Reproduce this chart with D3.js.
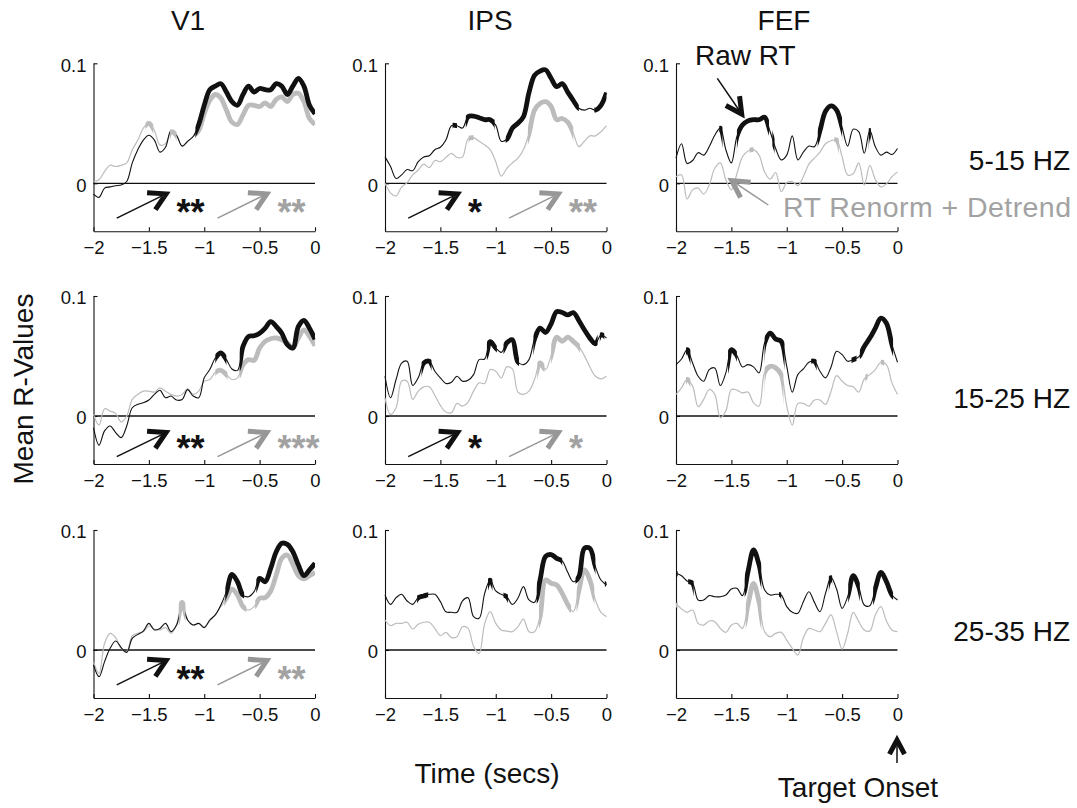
<!DOCTYPE html>
<html><head><meta charset="utf-8">
<script src="https://cdn.jsdelivr.net/npm/d3@7"></script>
<style>
body{margin:0;background:#fff;}
svg{display:block;font-family:"Liberation Sans",Arial,Helvetica,sans-serif;}
</style></head><body>
<svg id="chart" width="1077" height="808"></svg>
<script>
// ---------------- DATA ----------------
const times = [-2.00,-1.95,-1.90,-1.85,-1.80,-1.75,-1.70,-1.65,-1.60,-1.55,-1.50,-1.45,-1.40,-1.35,-1.30,-1.25,-1.20,-1.15,-1.10,-1.05,-1.00,-0.95,-0.90,-0.85,-0.80,-0.75,-0.70,-0.65,-0.60,-0.55,-0.50,-0.45,-0.40,-0.35,-0.30,-0.25,-0.20,-0.15,-0.10,-0.05,0.00];
const regions = ["V1","IPS","FEF"];
const bands = ["5-15 HZ","15-25 HZ","25-35 HZ"];
const xTicks = [-2,-1.5,-1,-0.5,0];
const xTickLabels = ["\u22122","\u22121.5","\u22121","\u22120.5","0"];
const yTicks = [0,0.1];
const yTickLabels = ["0","0.1"];

// Raw RT (black)
const raw_5_15_V1 = [-0.009,-0.0117,-0.004,-0.003,-0.002,-0.0015,0.0015,0.017,0.028,0.036,0.040,0.036,0.026,0.030,0.044,0.040,0.031,0.035,0.039,0.049,0.065,0.078,0.081,0.083,0.076,0.068,0.065,0.074,0.081,0.076,0.079,0.078,0.078,0.083,0.081,0.074,0.081,0.0875,0.081,0.065,0.058];
const raw_5_15_IPS = [0.022,0.014,0.004,0.007,0.0115,0.0105,0.018,0.022,0.023,0.028,0.030,0.036,0.048,0.048,0.046,0.0555,0.056,0.0547,0.053,0.053,0.0485,0.035,0.0367,0.046,0.050,0.0555,0.0755,0.090,0.0935,0.0945,0.0875,0.0805,0.083,0.076,0.069,0.0625,0.061,0.0625,0.061,0.065,0.0755];
const raw_5_15_FEF = [0.021,0.033,0.0165,0.019,0.0255,0.0235,0.0305,0.040,0.046,0.028,0.017,0.039,0.0485,0.052,0.053,0.053,0.055,0.043,0.029,0.0195,0.0235,0.0395,0.0195,0.026,0.031,0.0305,0.044,0.060,0.0645,0.061,0.0465,0.031,0.045,0.043,0.025,0.044,0.0305,0.0235,0.026,0.024,0.029];
const raw_15_25_V1 = [-0.0097,-0.0243,-0.0124,-0.0083,-0.0138,-0.018,-0.0083,0.0069,0.0097,0.011,0.0133,0.018,0.0215,0.0152,0.0166,0.0133,0.0138,0.022,0.0166,0.0152,0.0318,0.0387,0.0483,0.0525,0.047,0.0392,0.038,0.058,0.0663,0.0669,0.069,0.0732,0.0787,0.0746,0.069,0.0594,0.0566,0.0746,0.0796,0.0732,0.064];
const raw_15_25_IPS = [0.0331,0.0152,0.0304,0.044,0.0456,0.0254,0.0318,0.0442,0.0456,0.0373,0.0318,0.0271,0.0282,0.0331,0.029,0.0298,0.0345,0.047,0.0475,0.062,0.0566,0.053,0.061,0.0635,0.045,0.0428,0.047,0.0641,0.0732,0.0696,0.0768,0.087,0.0862,0.0843,0.0862,0.0796,0.0718,0.0649,0.0602,0.0677,0.0649];
const raw_15_25_FEF = [0.0428,0.0475,0.0552,0.0442,0.0331,0.029,0.0387,0.040,0.0254,0.036,0.0552,0.0503,0.0409,0.0428,0.0409,0.0359,0.0608,0.0691,0.0641,0.0622,0.0414,0.0199,0.0345,0.0392,0.0448,0.0456,0.0373,0.0318,0.0409,0.0539,0.0511,0.0456,0.047,0.0492,0.058,0.0649,0.0732,0.0815,0.0773,0.0594,0.0448];
const raw_25_35_V1 = [-0.0125,-0.0222,-0.0097,0.0014,0.0075,0.002,-0.002,0.0097,0.013,0.0158,0.0222,0.0167,0.018,0.0222,0.0153,0.0208,0.0361,0.025,0.0208,0.0222,0.0186,0.025,0.0292,0.0375,0.0486,0.0631,0.0569,0.0458,0.0444,0.0486,0.0597,0.0569,0.068,0.0819,0.0889,0.088,0.0819,0.0708,0.0619,0.0667,0.0722];
const raw_25_35_IPS = [0.0458,0.038,0.0436,0.0464,0.0408,0.038,0.0436,0.045,0.0464,0.0464,0.0403,0.0319,0.0314,0.0314,0.041,0.0435,0.0278,0.0264,0.0472,0.0583,0.0492,0.0464,0.0444,0.038,0.0431,0.0528,0.0417,0.0397,0.0583,0.078,0.0795,0.0764,0.0742,0.0647,0.0569,0.0611,0.0847,0.0847,0.0694,0.0583,0.0542];
const raw_25_35_FEF = [0.0639,0.0619,0.0575,0.0556,0.0417,0.0417,0.0453,0.0444,0.0444,0.0458,0.0508,0.0514,0.0453,0.0653,0.0835,0.071,0.05,0.0458,0.0464,0.0458,0.0361,0.0314,0.0306,0.0403,0.0486,0.0397,0.0319,0.0472,0.0603,0.0508,0.0347,0.0444,0.062,0.0528,0.0375,0.0369,0.0514,0.0647,0.057,0.0458,0.0417];

// RT Renorm + Detrend (grey)
const ren_5_15_V1 = [0.0015,0.003,0.010,0.015,0.014,0.015,0.017,0.028,0.036,0.046,0.050,0.044,0.032,0.033,0.043,0.040,0.031,0.035,0.039,0.044,0.058,0.069,0.074,0.071,0.061,0.051,0.049,0.057,0.065,0.065,0.064,0.067,0.064,0.070,0.072,0.068,0.074,0.075,0.068,0.054,0.049];
const ren_5_15_IPS = [0.0,-0.008,-0.0105,-0.003,0.0005,0.007,0.011,0.016,0.013,0.019,0.018,0.0215,0.025,0.0215,0.022,0.037,0.038,0.035,0.032,0.028,0.018,0.006,0.0125,0.017,0.021,0.028,0.0415,0.061,0.0665,0.068,0.064,0.053,0.054,0.051,0.042,0.0305,0.035,0.0395,0.0395,0.043,0.048];
const ren_5_15_FEF = [0.0055,0.007,-0.013,-0.0055,-0.004,-0.009,-0.0015,0.0125,0.017,0.003,-0.0055,0.008,0.022,0.027,0.028,0.0235,0.0095,0.0035,0.009,-0.007,0.0005,0.0015,-0.002,0.0055,0.016,0.021,0.026,0.033,0.0355,0.036,0.022,0.007,0.008,0.017,-0.0015,0.015,0.003,-0.003,-0.0005,0.0055,0.0095];
const ren_15_25_V1 = [0.0014,-0.0077,0.006,0.0041,0.0022,-0.005,0.0,0.0138,0.018,0.0207,0.0207,0.0199,0.0235,0.0207,0.018,0.0166,0.018,0.0227,0.018,0.0207,0.029,0.0304,0.0365,0.0381,0.0345,0.0304,0.0318,0.0428,0.047,0.0464,0.0566,0.0622,0.0644,0.065,0.0635,0.0608,0.0566,0.065,0.0718,0.0663,0.0586];
const ren_15_25_IPS = [0.0152,0.0014,0.0069,0.029,0.029,0.0138,0.0207,0.0243,0.0243,0.0171,0.0088,0.0033,0.0028,0.0105,0.0083,0.0116,0.0207,0.0276,0.0271,0.0387,0.0373,0.0318,0.0409,0.0392,0.0199,0.018,0.0207,0.0304,0.0442,0.0387,0.0503,0.0657,0.0622,0.0657,0.0622,0.058,0.0503,0.0409,0.0331,0.0309,0.0331];
const ren_15_25_FEF = [0.018,0.0235,0.0304,0.0249,0.0077,0.0138,0.0221,0.018,-0.0014,0.0041,0.0221,0.0215,0.0193,0.0199,0.011,0.0083,0.0365,0.0414,0.0401,0.0345,0.0083,-0.0077,0.0105,0.0105,0.0083,0.0133,0.0133,0.0097,0.0207,0.0337,0.029,0.0254,0.0243,0.0199,0.0309,0.0345,0.0387,0.0448,0.0428,0.0276,0.018];
const ren_25_35_V1 = [-0.0097,-0.0194,0.0056,0.0139,0.0103,0.0014,-0.0014,0.0119,0.0139,0.0153,0.020,0.0175,0.0167,0.0186,0.0139,0.0208,0.0397,0.025,0.0208,0.0222,0.0194,0.0242,0.0297,0.0361,0.0431,0.0508,0.0458,0.0361,0.0333,0.0361,0.0431,0.0436,0.0492,0.0625,0.0764,0.0792,0.0714,0.0619,0.0592,0.0619,0.0647];
const ren_25_35_IPS = [0.025,0.0203,0.0222,0.0222,0.0231,0.0175,0.0214,0.0231,0.0231,0.018,0.0119,0.0147,0.0103,0.0111,0.0194,0.018,0.003,-0.003,0.022,0.0319,0.0222,0.0167,0.0158,0.0153,0.0194,0.0258,0.0153,0.0153,0.0278,0.0583,0.0556,0.0542,0.0472,0.038,0.0319,0.0492,0.0667,0.0583,0.0417,0.0314,0.0278];
const ren_25_35_FEF = [0.0389,0.0342,0.0314,0.0333,0.0222,0.0208,0.0242,0.0236,0.018,0.0147,0.0208,0.0222,0.018,0.0375,0.0555,0.040,0.0153,0.0111,0.0139,0.0147,0.0083,0.0014,-0.0042,0.0103,0.018,0.0167,0.0153,0.0222,0.0292,0.0153,0.0008,0.0139,0.0314,0.0236,0.0167,0.0158,0.0292,0.0361,0.0242,0.0167,0.0153];

// Significant intervals (drawn thick), [start, end] in seconds
const sigRaw_5_15_V1 = [[-1.08,0]];
const sigRaw_5_15_IPS = [[-1.39,-1.35],[-1.27,-1.01],[-0.91,-0.25],[-0.11,0]];
const sigRaw_5_15_FEF = [[-1.61,-1.58],[-1.45,-1.16],[-1.13,-1.11],[-0.72,-0.50],[-0.26,-0.24]];
const sigRaw_15_25_V1 = [[-0.90,-0.80],[-0.68,0]];
const sigRaw_15_25_IPS = [[-1.67,-1.58],[-1.08,-0.99],[-0.93,-0.79],[-0.66,-0.08],[-0.06,-0.02]];
const sigRaw_15_25_FEF = [[-1.91,-1.87],[-1.53,-1.45],[-1.20,-1.02],[-0.78,-0.73],[-0.415,-0.37],[-0.34,-0.04]];
const sigRaw_25_35_V1 = [[-0.81,-0.64],[-0.53,0]];
const sigRaw_25_35_IPS = [[-1.71,-1.61],[-1.07,-1.03],[-0.93,-0.89],[-0.63,-0.40],[-0.28,-0.10],[-0.015,0]];
const sigRaw_25_35_FEF = [[-2,-1.985],[-1.89,-1.84],[-1.38,-1.23],[-1.07,-1.05],[-0.62,-0.59],[-0.445,-0.34],[-0.22,-0.04]];
const sigRen_5_15_V1 = [[-1.53,-1.46],[-1.31,-1.25],[-1.07,0]];
const sigRen_5_15_IPS = [[-1.245,-1.20],[-0.71,-0.30]];
const sigRen_5_15_FEF = [[-1.335,-1.30],[-0.57,-0.53]];
const sigRen_15_25_V1 = [[-0.90,-0.79],[-0.68,0]];
const sigRen_15_25_IPS = [[-0.625,-0.56],[-0.50,-0.24]];
const sigRen_15_25_FEF = [[-1.91,-1.87],[-1.20,-1.03],[-0.29,-0.27],[-0.15,-0.12]];
const sigRen_25_35_V1 = [[-1.23,-1.17],[-0.82,-0.62],[-0.54,0]];
const sigRen_25_35_IPS = [[-0.61,-0.32],[-0.27,-0.11]];
const sigRen_25_35_FEF = [[-2,-1.985],[-1.37,-1.23]];

// Trend significance stars (row = band, col = region)
const starsRaw = [["**","*",""],["**","*",""],["**","",""]];
const starsRen = [["**","**",""],["***","*",""],["**","",""]];

// ---------------- TABLES ----------------
const rawTable = [[raw_5_15_V1,raw_5_15_IPS,raw_5_15_FEF],[raw_15_25_V1,raw_15_25_IPS,raw_15_25_FEF],[raw_25_35_V1,raw_25_35_IPS,raw_25_35_FEF]];
const renTable = [[ren_5_15_V1,ren_5_15_IPS,ren_5_15_FEF],[ren_15_25_V1,ren_15_25_IPS,ren_15_25_FEF],[ren_25_35_V1,ren_25_35_IPS,ren_25_35_FEF]];
const sigRawTable = [[sigRaw_5_15_V1,sigRaw_5_15_IPS,sigRaw_5_15_FEF],[sigRaw_15_25_V1,sigRaw_15_25_IPS,sigRaw_15_25_FEF],[sigRaw_25_35_V1,sigRaw_25_35_IPS,sigRaw_25_35_FEF]];
const sigRenTable = [[sigRen_5_15_V1,sigRen_5_15_IPS,sigRen_5_15_FEF],[sigRen_15_25_V1,sigRen_15_25_IPS,sigRen_15_25_FEF],[sigRen_25_35_V1,sigRen_25_35_IPS,sigRen_25_35_FEF]];

// ---------------- LAYOUT ----------------
const colX = [93.5, 385, 676];
const rowY = [63.3, 296, 530];
const W = 221.5, H = 168;
const BLACK = "#111", GREY = "#bcbcbc", GREY_DARK = "#979797", GREY_TXT = "#a2a2a2";
const bigFont = 28;

const svg = d3.select("#chart");
const defs = svg.append("defs");
const x = d3.scaleLinear().domain([-2, 0]).range([0, W]);
const y = d3.scaleLinear().domain([-0.04, 0.1]).range([H, 0]);
const line = d3.line().x((d, i) => x(times[i])).y(d => y(d)).curve(d3.curveCatmullRom.alpha(0.5));

function drawArrow(g, x1, y1, x2, y2, color, lw, hw, hl, half) {
  g.append("line").attr("x1", x1).attr("y1", y1).attr("x2", x2).attr("y2", y2)
    .attr("stroke", color).attr("stroke-width", lw);
  const back = Math.atan2(y1 - y2, x1 - x2);
  const a1 = back - half, a2 = back + half;
  g.append("path")
    .attr("d", `M${x2 + hl * Math.cos(a1)},${y2 + hl * Math.sin(a1)}L${x2},${y2}L${x2 + hl * Math.cos(a2)},${y2 + hl * Math.sin(a2)}`)
    .attr("fill", "none").attr("stroke", color).attr("stroke-width", hw)
    .attr("stroke-linejoin", "miter").attr("stroke-miterlimit", 10);
}

// annotation vertical placement per row (data units): arrow start, arrow tip, star centre
const annotY = [[-0.029, -0.0088, -0.0183], [-0.0338, -0.0138, -0.0212], [-0.029, -0.0088, -0.0183]];
const starFont = 36;

rowY.forEach((ry, r) => {
  colX.forEach((cx, c) => {
    const g = svg.append("g").attr("transform", `translate(${cx},${ry})`);

    // axes
    const xa = g.append("g").attr("transform", `translate(0,${H})`)
      .call(d3.axisBottom(x).tickValues(xTicks).tickFormat((d, i) => xTickLabels[i]).tickSize(-4).tickSizeOuter(0).tickPadding(10));
    const ya = g.append("g")
      .call(d3.axisLeft(y).tickValues(yTicks).tickFormat((d, i) => yTickLabels[i]).tickSize(-4).tickSizeOuter(0).tickPadding(7));
    [xa, ya].forEach(a => {
      a.select(".domain").attr("stroke", BLACK).attr("stroke-width", 1.1);
      a.selectAll(".tick line").attr("stroke", BLACK).attr("stroke-width", 1.1);
      a.selectAll("text").attr("font-size", 18.5).attr("fill", BLACK).attr("font-family", "Liberation Sans, Arial, sans-serif");
    });
    ya.selectAll("text").attr("dy", "0.42em");

    // zero line
    g.append("line").attr("x1", x(-2)).attr("x2", x(0)).attr("y1", y(0)).attr("y2", y(0))
      .attr("stroke", BLACK).attr("stroke-width", 1.3);

    // clip paths for significant intervals
    const mkClip = (id, ints) => {
      const cp = defs.append("clipPath").attr("id", id);
      ints.forEach(([a, b]) => cp.append("rect")
        .attr("x", cx + x(a)).attr("width", Math.max(0.5, x(b) - x(a)))
        .attr("y", ry - 30).attr("height", H + 60));
    };
    const idRaw = `sraw${r}${c}`, idRen = `sren${r}${c}`;
    mkClip(idRaw, sigRawTable[r][c]);
    mkClip(idRen, sigRenTable[r][c]);

    const raw = rawTable[r][c], ren = renTable[r][c];
    g.append("path").attr("d", line(ren)).attr("fill", "none").attr("stroke", GREY).attr("stroke-width", 1.2);
    g.append("path").attr("d", line(raw)).attr("fill", "none").attr("stroke", BLACK).attr("stroke-width", 1.1);
    const gRen = svg.append("g").attr("clip-path", `url(#${idRen})`);
    gRen.append("path").attr("transform", `translate(${cx},${ry})`).attr("d", line(ren))
      .attr("fill", "none").attr("stroke", GREY).attr("stroke-width", 4.8);
    const gRaw = svg.append("g").attr("clip-path", `url(#${idRaw})`);
    gRaw.append("path").attr("transform", `translate(${cx},${ry})`).attr("d", line(raw))
      .attr("fill", "none").attr("stroke", BLACK).attr("stroke-width", 4.8);

    // trend arrows + stars
    const [ay1, ay2, sy] = annotY[r];
    const ann = svg.append("g").attr("transform", `translate(${cx},${ry})`);
    if (starsRaw[r][c]) {
      drawArrow(ann, x(-1.79), y(ay1), x(-1.345), y(ay2), BLACK, 1.5, 5, 19, 0.52);
      ann.append("text").attr("x", x(-1.25)).attr("y", y(sy) + 20)
        .attr("font-size", starFont).attr("font-weight", "bold").attr("fill", BLACK).text(starsRaw[r][c]);
    }
    if (starsRen[r][c]) {
      drawArrow(ann, x(-0.88), y(ay1), x(-0.435), y(ay2), GREY_DARK, 1.5, 5, 19, 0.52);
      ann.append("text").attr("x", x(-0.338)).attr("y", y(sy) + 20)
        .attr("font-size", starFont).attr("font-weight", "bold").attr("fill", GREY_TXT).text(starsRen[r][c]);
    }
  });
});

// column titles
const titleX = [188, 490, 784];
regions.forEach((t, i) => svg.append("text").attr("x", titleX[i]).attr("y", 30)
  .attr("text-anchor", "middle").attr("font-size", bigFont).attr("fill", BLACK).text(t));

// band labels
const bandY = [170, 408, 641];
bands.forEach((t, i) => svg.append("text").attr("x", 1070).attr("y", bandY[i])
  .attr("text-anchor", "end").attr("font-size", bigFont).attr("fill", BLACK).text(t));

// axis titles
svg.append("text").attr("transform", "translate(33,389) rotate(-90)").attr("text-anchor", "middle")
  .attr("font-size", bigFont).attr("fill", BLACK).text("Mean R-Values");
svg.append("text").attr("x", 487).attr("y", 783).attr("text-anchor", "middle")
  .attr("font-size", bigFont).attr("fill", BLACK).text("Time (secs)");

// legend annotations
const ga = svg.append("g");
ga.append("text").attr("x", 695).attr("y", 65).attr("font-size", bigFont).attr("fill", BLACK).text("Raw RT");
drawArrow(ga, 717.3, 78.3, 741.7, 114, BLACK, 1.5, 5, 18, 0.48);
ga.append("text").attr("x", 783).attr("y", 217).attr("font-size", 28.5).attr("fill", GREY_TXT)
  .attr("textLength", 288).attr("lengthAdjust", "spacing").text("RT Renorm + Detrend");
drawArrow(ga, 768.3, 205, 731.7, 180.7, GREY_DARK, 1.5, 5, 19, 0.5);
ga.append("text").attr("x", 858).attr("y", 797).attr("text-anchor", "middle").attr("font-size", bigFont).attr("fill", BLACK).text("Target Onset");
drawArrow(ga, 897, 763, 897, 740, BLACK, 1.5, 5, 16, 0.49);
</script>
</body></html>
